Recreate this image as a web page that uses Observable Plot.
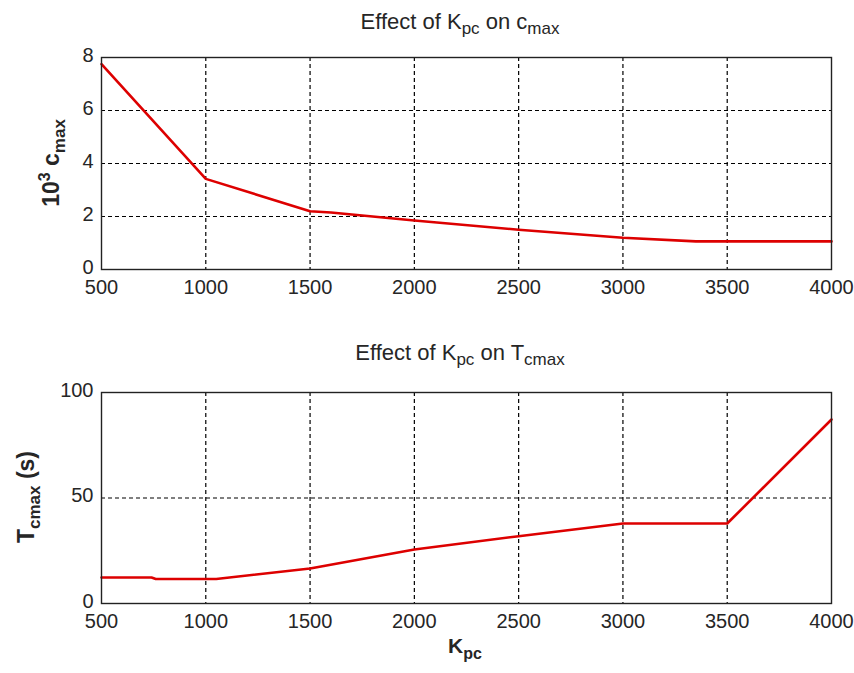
<!DOCTYPE html>
<html>
<head>
<meta charset="utf-8">
<script src="https://cdn.jsdelivr.net/npm/d3@7"></script>
<script src="https://cdn.jsdelivr.net/npm/@observablehq/plot@0.6"></script>
<style>
  body { margin: 0; background: #fff; }
  #wrap { position: relative; width: 854px; height: 673px; overflow: hidden;
          font-family: "Liberation Sans", Arial, sans-serif; color: #262626; }
  .abs { position: absolute; }
  .title { font-size: 22px; text-align: center; width: 600px; line-height: 24px; white-space: nowrap; }
  .title .sub { font-size: 17px; position: relative; top: 5px; }
  .lab { font-weight: bold; font-size: 23px; white-space: nowrap; line-height: 26px; }
  .lab .sub { font-size: 17px; position: relative; top: 6px; }
  .lab .sup { font-size: 16px; position: relative; top: -9px; }
  .rot { transform: translate(-50%, -50%) rotate(-90deg); }
</style>
</head>
<body>
<div id="wrap"></div>
<script>
// Data
const kpcTop = [500, 950, 1000, 1500, 1600, 2000, 2500, 3000, 3350, 4000];
const cmax   = [7.75, 3.85, 3.42, 2.2, 2.15, 1.85, 1.5, 1.2, 1.06, 1.06];

const kpcBottom = [500, 740, 760, 1050, 1500, 2000, 2500, 3000, 3500, 4000];
const tcmax     = [12.3, 12.3, 11.6, 11.6, 16.6, 25.6, 31.9, 37.9, 37.9, 87.2];

const xTicks = [500, 1000, 1500, 2000, 2500, 3000, 3500, 4000];
const yTicksTop = [0, 2, 4, 6, 8];
const yTicksBottom = [0, 50, 100];

const topData = kpcTop.map((k, i) => ({k, v: cmax[i]}));
const botData = kpcBottom.map((k, i) => ({k, v: tcmax[i]}));

const wrap = document.getElementById("wrap");
const style = {fontFamily: "'Liberation Sans', Arial, sans-serif", fontSize: "20px", color: "#262626", background: "transparent"};

function panel(data, yDomain, yTicks, height, mTop, mBottom) {
  return Plot.plot({
    width: 854, height,
    marginLeft: 101, marginRight: 23, marginTop: mTop, marginBottom: mBottom,
    style,
    x: {domain: [500, 4000]},
    y: {domain: yDomain},
    marks: [
      Plot.gridX(xTicks.slice(1, -1), {stroke: "#000", strokeOpacity: 1, strokeWidth: 1.2, strokeDasharray: "4,3"}),
      Plot.gridY(yTicks.slice(1, -1), {stroke: "#000", strokeOpacity: 1, strokeWidth: 1.2, strokeDasharray: "4,3"}),
      Plot.axisX({ticks: xTicks, tickSize: 0, tickPadding: 10, label: null, tickFormat: d => String(d)}),
      Plot.axisY({ticks: yTicks, tickSize: 0, tickPadding: 8, dy: -2, label: null, tickFormat: d => String(d)}),
      Plot.line(data, {x: "k", y: "v", stroke: "#dd0000", strokeWidth: 2.6}),
      Plot.frame({stroke: "#222", strokeWidth: 1.4})
    ]
  });
}

const p1 = panel(topData, [0, 8], yTicksTop, 310, 57, 41);
p1.style.position = "absolute"; p1.style.left = "0px"; p1.style.top = "0px";
wrap.appendChild(p1);

const p2 = panel(botData, [0, 100], yTicksBottom, 353, 72, 70);
p2.style.position = "absolute"; p2.style.left = "0px"; p2.style.top = "320px";
wrap.appendChild(p2);

function addDiv(html, cls, left, top) {
  const d = document.createElement("div");
  d.className = "abs " + cls;
  d.innerHTML = html;
  d.style.left = left + "px";
  d.style.top = top + "px";
  wrap.appendChild(d);
  return d;
}

addDiv('Effect of K<span class="sub">pc</span> on c<span class="sub">max</span>', "title", 160, 10);
addDiv('Effect of K<span class="sub">pc</span> on T<span class="sub">cmax</span>', "title", 160, 341);
addDiv('10<span class="sup">3</span> c<span class="sub">max</span>', "lab rot", 52, 163);
addDiv('T<span class="sub">cmax</span> (s)', "lab rot", 27, 497);
const xl = addDiv('K<span class="sub">pc</span>', "lab", 0, 633);
xl.style.width = "930px"; xl.style.textAlign = "center"; xl.style.fontSize = "21px";
xl.querySelector(".sub").style.fontSize = "16px";
</script>
</body>
</html>
